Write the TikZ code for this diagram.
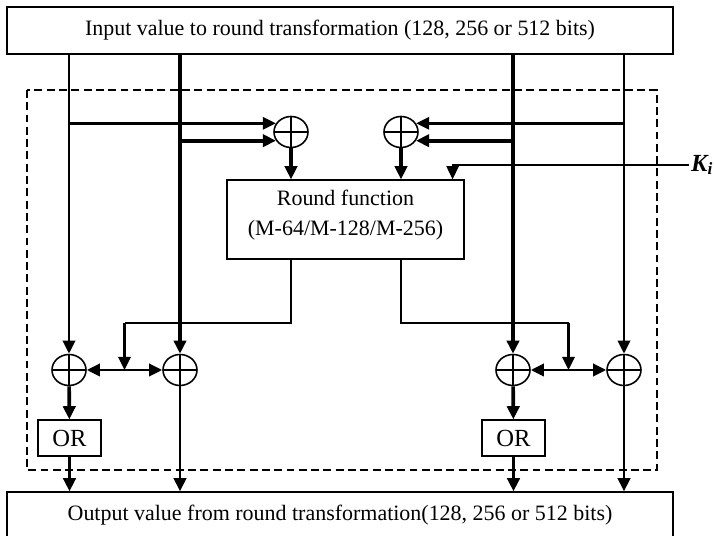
\documentclass[tikz,border=0pt]{standalone}
\usepackage{fontspec}
\setmainfont{Liberation Serif}
\usetikzlibrary{arrows.meta,shapes.geometric,calc}
\begin{document}
\begin{tikzpicture}[x=.02cm,y=-.02cm,>={Triangle[length=7.5pt,width=7pt]},font=\fontsize{12.5}{14}\selectfont,
blk/.style={draw,line width=.7pt,inner sep=0pt},
xr/.style={ellipse,draw,line width=.9pt,minimum width=.68cm,minimum height=.62cm,inner sep=0pt,path picture={\draw[line width=.7pt] (path picture bounding box.north)--(path picture bounding box.south) (path picture bounding box.west)--(path picture bounding box.east);}}]
\useasboundingbox (0,0) rectangle (714,536);
\node[blk,minimum width=13.32cm,minimum height=.94cm] (in) at (340,30.5) {Input value to round transformation (128, 256 or 512 bits)};
\node[blk,minimum width=13.32cm,minimum height=.92cm] (out) at (340,515) {Output value from round transformation(128, 256 or 512 bits)};
\node[blk,minimum width=4.74cm,minimum height=1.58cm,align=center,text depth=8pt] (rf) at (345.5,219.5) {Round function\\[3pt](M-64/M-128/M-256)};
\foreach \n/\x in {1/69.5,2/513.5}{\node[blk,minimum width=1.26cm,minimum height=.72cm,font=\fontsize{14}{16}\selectfont] (o\n) at (\x,438) {OR};}
\foreach \n/\x/\y in {xa/291/132,xb/401/132,l1/69/370,l2/180/370,r1/513/370,r2/624/370}{\node[xr] (\n) at (\x,\y) {};}
\node[font=\fontsize{14}{16}\selectfont\bfseries\itshape,anchor=west,inner sep=1pt] (ki) at (689,165) {K\textsubscript{i}};
\draw[line width=1.3pt,dash pattern=on 4.5pt off 2.5pt] (27,90) rectangle (657,470);
\draw[->,line width=1.7pt] (in.south -| l1) -- (l1);\draw[->,line width=2.6pt] (in.south -| l2) -- (l2);
\draw[->,line width=2.6pt] (in.south -| r1) -- (r1);\draw[->,line width=1.7pt] (in.south -| r2) -- (r2);
\draw[->,line width=1.4pt] (l1 |- xa.150) -- (xa.150);\draw[->,line width=2.1pt] (l2 |- xa.210) -- (xa.210);
\draw[->,line width=1.4pt] (r2 |- xb.30) -- (xb.30);\draw[->,line width=2.1pt] (r1 |- xb.-30) -- (xb.-30);
\draw[->,line width=1.8pt] (xa) -- (xa |- rf.north);\draw[->,line width=1.8pt] (xb) -- (xb |- rf.north);
\draw[->,line width=.7pt] (ki.west) -| ([xshift=-.24cm]rf.north east);
\coordinate (ma) at ($(l1)!.5!(l2)$);\coordinate (mb) at ($(r1)!.5!(r2)$);
\draw[line width=.7pt] (rf.south -| xa) |- (ma |- 0,323) coordinate (ka);\draw[->,line width=1.3pt] (ka) -- (ma);
\draw[line width=.7pt] (rf.south -| xb) |- (mb |- 0,323) coordinate (kb);\draw[->,line width=1.3pt] (kb) -- (mb);
\draw[<->,line width=1.7pt] (l1) -- (l2);\draw[<->,line width=1.7pt] (r1) -- (r2);
\draw[->,line width=2.1pt] (l1) -- (o1);\draw[->,line width=2.1pt] (o1) -- (o1 |- out.north);\draw[->,line width=1.5pt] (l2) -- (l2 |- out.north);
\draw[->,line width=2.1pt] (r1) -- (o2);\draw[->,line width=2.1pt] (o2) -- (o2 |- out.north);\draw[->,line width=1.5pt] (r2) -- (r2 |- out.north);
\end{tikzpicture}
\end{document}
